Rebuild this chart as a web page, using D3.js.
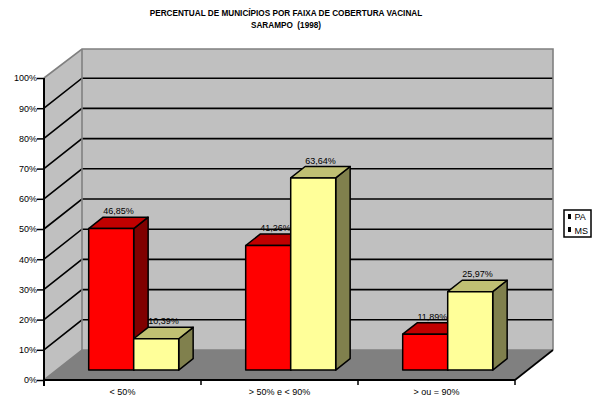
<!DOCTYPE html>
<html>
<head>
<meta charset="utf-8">
<script src="https://cdn.jsdelivr.net/npm/d3@7"></script>
<style>
  html, body { margin: 0; padding: 0; background: #fff; }
  svg { display: block; }
  text { font-family: "Liberation Sans", Arial, sans-serif; fill: #000; }
</style>
</head>
<body>
<div id="chart"></div>
<script>
const titleLines = ["PERCENTUAL DE MUNICÍPIOS POR FAIXA DE COBERTURA VACINAL", "SARAMPO  (1998)"];
const categories = ["< 50%", "> 50% e < 90%", "> ou = 90%"];
const seriesNames = ["PA", "MS"];
const valuesPA = [46.85, 41.26, 11.89];
const valuesMS = [10.39, 63.64, 25.97];
const valueTicks = [0, 10, 20, 30, 40, 50, 60, 70, 80, 90, 100];

const formatPct = d => d.toFixed(2).replace(".", ",") + "%";

const palette = {
  PA: { front: "#ff0000", top: "#c00000", side: "#800000" },
  MS: { front: "#ffff99", top: "#c0c073", side: "#80804d" }
};

const width = 602, height = 399;
const svg = d3.select("#chart").append("svg").attr("width", width).attr("height", height);

// Oblique projection: depth runs from 0 (front plane) to 1 (back wall)
const depthX = 38, depthY = -30;
const x = d3.scaleBand().domain(categories).range([44, 515]);
const y = d3.scaleLinear().domain([0, 100]).range([380, 78]);
const xSeries = d3.scaleBand().domain(seriesNames).range([0, x.bandwidth()])
  .paddingOuter(0.744).paddingInner(0).align(0.48);
const project = (px, py, z) => [px + depthX * z, py + depthY * z];
const poly = pts => pts.map(p => p.join(",")).join(" ");

const L = x.range()[0], R = x.range()[1];
const wallTop = 49;
const wallBottom = y(0) + depthY;

const walls = svg.append("g");
walls.append("polygon") // side wall
  .attr("points", poly([[L, y(100)], [L + depthX, wallTop], [L + depthX, wallBottom], [L, y(0)]]))
  .attr("fill", "#c0c0c0");
walls.append("rect") // back wall
  .attr("x", L + depthX).attr("y", wallTop)
  .attr("width", R - L).attr("height", wallBottom - wallTop)
  .attr("fill", "#c0c0c0");
walls.append("polygon") // floor
  .attr("points", poly([[L, y(0)], [L + depthX, wallBottom], [R + depthX, wallBottom], [R, y(0)]]))
  .attr("fill", "#808080");

// gridlines across the side wall and the back wall
const grid = svg.append("g").attr("fill", "none").attr("stroke", "#000").attr("stroke-width", 1.6);
valueTicks.filter(t => t > 0 && t < 100).forEach(t => {
  const a = [L, y(t)];
  grid.append("polyline").attr("points", poly([a, project(L, y(t), 1), project(R, y(t), 1)]));
});

// wall outlines
const edge = svg.append("g").attr("fill", "none").attr("stroke", "#808080").attr("stroke-width", 1.6);
edge.append("polyline").attr("points", poly([[L, y(100)], [L + depthX, wallTop], [R + depthX, wallTop], [R + depthX, wallBottom]]));
edge.append("line").attr("x1", L + depthX).attr("y1", wallTop).attr("x2", L + depthX).attr("y2", wallBottom);
edge.append("polyline").attr("points", poly([[L, y(0)], [L + depthX, wallBottom], [R + depthX, wallBottom]]));
svg.append("line").attr("stroke", "#000").attr("stroke-width", 1.6)
  .attr("x1", R).attr("y1", y(0)).attr("x2", R + depthX).attr("y2", wallBottom);

// 3D bars; each value label sits just behind the top of its bar
const zFront = 0.33, zBack = 0.71;
const rows = categories.flatMap((c, i) => [
  { cat: c, name: "PA", value: valuesPA[i] },
  { cat: c, name: "MS", value: valuesMS[i] }
]);

rows.forEach(d => {
  const cx = x(d.cat) + xSeries(d.name) + xSeries.bandwidth() / 2;
  svg.append("text")
    .attr("x", project(cx, 0, (zFront + zBack) / 2)[0])
    .attr("y", project(0, y(d.value), zBack)[1] - 3)
    .attr("text-anchor", "middle").attr("font-size", 9).attr("fill", "#222")
    .text(formatPct(d.value));
});

const bars = svg.append("g").attr("stroke", "#000").attr("stroke-width", 1.5).attr("stroke-linejoin", "round");
rows.forEach(d => {
  const x0 = x(d.cat) + xSeries(d.name), x1 = x0 + xSeries.bandwidth();
  const yt = y(d.value), yb = y(0), c = palette[d.name];
  const ft = project(x0, yt, zFront), fr = project(x1, yt, zFront), fb = project(x1, yb, zFront), fl = project(x0, yb, zFront);
  const bt = project(x0, yt, zBack), br = project(x1, yt, zBack), bb = project(x1, yb, zBack);
  const g = bars.append("g");
  g.append("polygon").attr("points", poly([fr, br, bb, fb])).attr("fill", c.side);
  g.append("polygon").attr("points", poly([ft, bt, br, fr])).attr("fill", c.top);
  g.append("polygon").attr("points", poly([ft, fr, fb, fl])).attr("fill", c.front);
});

// value axis
const yAxis = svg.append("g").attr("transform", `translate(${L},0)`)
  .call(d3.axisLeft(y).tickValues(valueTicks).tickFormat(d => d + "%").tickSize(7).tickPadding(0));
yAxis.select(".domain").attr("stroke", "#000").attr("stroke-width", 2).attr("d", `M0,${y(100)}V${y(0) + 6}`);
yAxis.selectAll(".tick line").attr("stroke", "#000").attr("stroke-width", 1.5);
yAxis.selectAll("text").attr("font-size", 9).attr("font-family", null).attr("fill", "#222");

// category axis, with tick marks on the band edges
const xAxis = svg.append("g").attr("transform", `translate(0,${y(0)})`)
  .call(d3.axisBottom(x).tickSize(0).tickPadding(8.5));
xAxis.select(".domain").attr("stroke", "#000").attr("stroke-width", 2).attr("d", `M${L},0H${R}`);
xAxis.selectAll("text").attr("font-size", 9).attr("font-family", null).attr("fill", "#222");
categories.map(c => x(c)).concat([R]).forEach(px => {
  xAxis.append("line").attr("stroke", "#000").attr("stroke-width", 1.5)
    .attr("x1", px).attr("x2", px).attr("y1", 0).attr("y2", 5);
});

// title
svg.append("g").selectAll("text").data(titleLines).join("text")
  .attr("x", 286).attr("y", (d, i) => 15.5 + i * 12.5)
  .attr("text-anchor", "middle").attr("font-size", 8.2).attr("font-weight", "bold")
  .style("white-space", "pre")
  .text(d => d);

// legend
const legend = svg.append("g").attr("transform", "translate(564,210)");
legend.append("rect").attr("width", 27).attr("height", 27).attr("fill", "#fff").attr("stroke", "#000").attr("stroke-width", 1.5);
seriesNames.forEach((n, i) => {
  legend.append("rect").attr("x", 4).attr("y", 4 + i * 13).attr("width", 3).attr("height", 5).attr("fill", "#000");
  legend.append("text").attr("x", 10.5).attr("y", 10 + i * 13.5).attr("font-size", 9).attr("fill", "#222").text(n);
});
</script>
</body>
</html>
